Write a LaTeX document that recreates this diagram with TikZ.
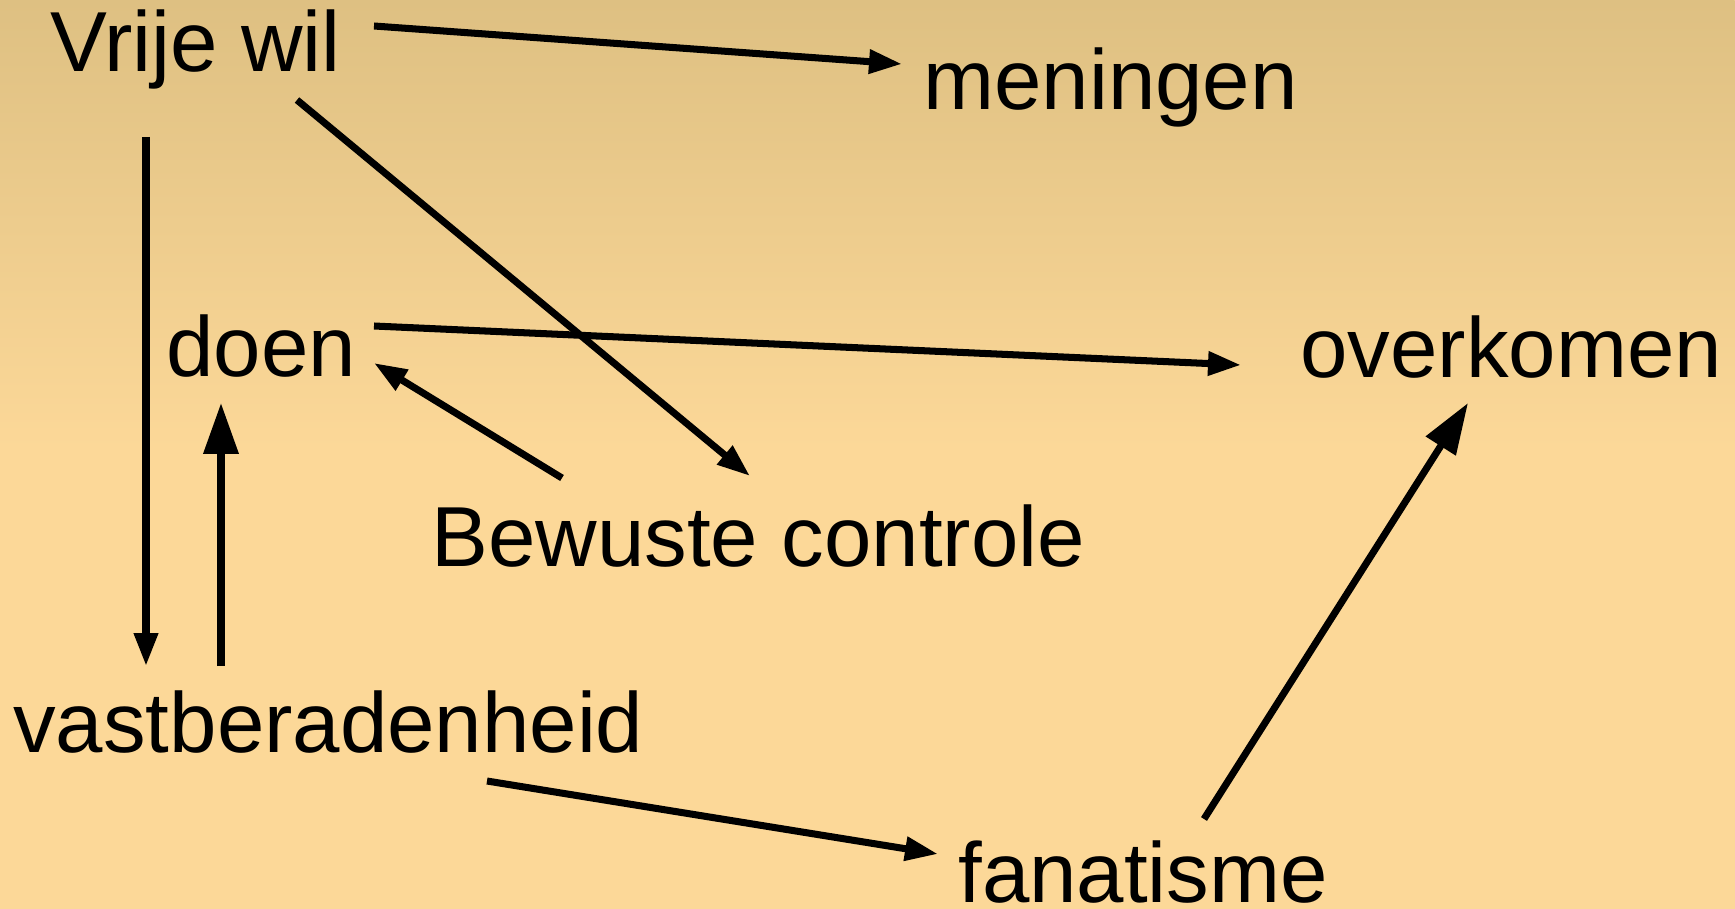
\documentclass[tikz,border=0pt]{standalone}
\usepackage{fontspec}
\setmainfont{Liberation Sans}
\usepackage{tikz}
\usetikzlibrary{arrows.meta}
\definecolor{bgtop}{RGB}{222,192,130}
\definecolor{bgbot}{RGB}{252,216,152}

\begin{document}
\begin{tikzpicture}[x=0.02cm, y=-0.02cm,
  every node/.style={inner sep=0pt, anchor=base west, font=\fontsize{48.5pt}{58pt}\selectfont},
  arr/.style={-{Triangle[length=0.66cm,width=0.46cm]}, line width=4pt},
  bigarr/.style={-{Triangle[length=1.02cm,width=0.68cm]}, line width=4pt}]
\useasboundingbox (0,0) rectangle (1735,909);
\fill[bgbot] (0,0) rectangle (1735,909);
\shade[top color=bgtop, bottom color=bgbot] (0cm,0cm) rectangle (34.7cm,-9cm);

\node (wil) at (50,72) {Vrije wil};
\node (men) at (923,110) {meningen};
\node (doen) at (166,376) {doen};
\node (over) at (1300,377) {overkomen};
\node (bew) at (431,566) {Bewuste controle};
\node (vast) at (13,752) {vastberadenheid};
\node (fan) at (958,902) {fanatisme};

\draw[arr] ([shift={(324,-46)}]wil.base west) to ([shift={(-21,-46)}]men.base west);
\draw[arr] ([shift={(247,28)}]wil.base west) to ([shift={(319,-90)}]bew.base west);
\draw[arr] ([shift={(96,65)}]wil.base west) to ([shift={(133,-86)}]vast.base west);
\draw[bigarr] ([shift={(208,-86)}]vast.base west) to ([shift={(55,27)}]doen.base west);
\draw[arr] ([shift={(208,-50)}]doen.base west) to ([shift={(-59,-12)}]over.base west);
\draw[arr] ([shift={(131,-88)}]bew.base west) to ([shift={(208,-13)}]doen.base west);
\draw[arr] ([shift={(474,29)}]vast.base west) to ([shift={(-20,-48)}]fan.base west);
\draw[bigarr] ([shift={(246,-83)}]fan.base west) to ([shift={(168,26)}]over.base west);
\end{tikzpicture}
\end{document}
